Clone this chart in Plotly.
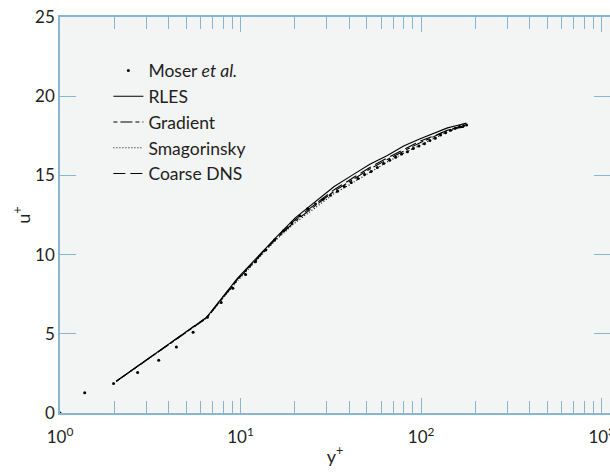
import plotly.graph_objects as go

# ---- data ----
moser_y = [1.0, 1.37, 1.98, 2.69, 3.52, 4.41, 5.46, 6.55, 7.81, 9.06, 10.66, 12.1, 13.8, 15.4,
           17.3, 19.2, 21.3, 23.5, 26.0, 28.6, 31.4, 34.4, 37.6, 41.0, 44.7, 48.6, 52.8, 57.2,
           62.0, 67.0, 72.3, 78.0, 84.0, 90.4, 97.2, 104.3, 111.8, 119.7, 128.0, 136.6, 145.5,
           154.5, 163.5, 172.0, 178.5]
moser_u = [0.0, 1.28, 1.87, 2.55, 3.33, 4.17, 5.09, 6.04, 6.97, 7.87, 8.75, 9.55, 10.29, 10.92,
           11.5, 12.0, 12.45, 12.9, 13.2, 13.5, 13.75, 14.0, 14.3, 14.55, 14.8, 15.05, 15.25, 15.5,
           15.75, 15.95, 16.15, 16.35, 16.5, 16.7, 16.85, 17.0, 17.2, 17.35, 17.55, 17.7, 17.85,
           17.98, 18.08, 18.15, 18.18]

les_y = [2.05, 6.5, 9.6, 12.0, 15.3, 20, 26, 33, 42, 52, 65, 80, 98, 118, 140, 160, 178]
rles_u = [2.0, 6.05, 8.5, 9.7, 10.95, 12.3, 13.35, 14.3, 15.05, 15.7, 16.25, 16.85, 17.3, 17.68, 18.0, 18.17, 18.3]
gradient_u = [2.0, 6.0, 8.4, 9.6, 10.85, 12.1, 13.1, 14.0, 14.75, 15.4, 16.0, 16.55, 17.05, 17.45, 17.85, 18.05, 18.15]
smag_u = [2.0, 6.0, 8.35, 9.55, 10.8, 12.0, 12.95, 13.85, 14.55, 15.2, 15.85, 16.4, 16.9, 17.35, 17.75, 18.0, 18.15]
coarse_u = [2.0, 6.05, 8.45, 9.65, 10.9, 12.2, 13.2, 14.1, 14.85, 15.5, 16.1, 16.65, 17.15, 17.5, 17.85, 18.0, 18.05]

x_tickvals = [1, 10, 100, 1000]
x_ticktext = ["10<sup>0</sup>", "10<sup>1</sup>", "10<sup>2</sup>", "10<sup>3</sup>"]
x_minor = [m * d for d in (1, 10, 100) for m in range(2, 10)]
y_tickvals = [0, 5, 10, 15, 20, 25]

AX = "#86b6d1"
TXT = "#231f20"
FONT = "Lato, sans-serif"

fig = go.Figure()
fig.add_trace(go.Scatter(x=moser_y, y=moser_u, mode="markers", name="Moser <i>et al.</i>",
                         marker=dict(color="black", size=3), cliponaxis=False))
fig.add_trace(go.Scatter(x=les_y, y=rles_u, mode="lines", name="RLES",
                         line=dict(color="black", width=1.1)))
fig.add_trace(go.Scatter(x=les_y, y=gradient_u, mode="lines", name="Gradient",
                         line=dict(color="black", width=1.1, dash="4px,3px,12px,3px")))
fig.add_trace(go.Scatter(x=les_y, y=smag_u, mode="lines", name="Smagorinsky",
                         line=dict(color="black", width=1.1, dash="1px,2px")))
fig.add_trace(go.Scatter(x=les_y, y=coarse_u, mode="lines", name="Coarse DNS",
                         line=dict(color="black", width=1.1, dash="12px,5px")))

fig.update_layout(
    width=610, height=474,
    margin=dict(l=60, r=0, t=17, b=61, autoexpand=False),
    paper_bgcolor="white", plot_bgcolor="#f3f4f4",
    font=dict(family=FONT, color=TXT, size=17),
    showlegend=True,
    legend=dict(x=0.088, y=0.91, xanchor="left", yanchor="top", bgcolor="rgba(0,0,0,0)",
                font=dict(size=17.5, family=FONT, color=TXT), itemwidth=30, tracegroupgap=0),
    xaxis=dict(type="log", range=[0, 3.046], showgrid=False, zeroline=False, automargin=False,
               showline=True, linecolor=AX, linewidth=1.5, mirror="ticks",
               ticks="inside", ticklen=15, tickcolor=AX, tickwidth=1.2,
               tickmode="array", tickvals=x_tickvals, ticktext=x_ticktext,
               ticklabeloverflow="allow", ticklabelstandoff=8,
               tickfont=dict(size=17, family=FONT, color=TXT),
               minor=dict(ticks="inside", ticklen=12, tickcolor=AX, tickwidth=1.2,
                          tickmode="array", tickvals=x_minor, showgrid=False),
               title=dict(text="y<sup>+</sup>", font=dict(size=18, family=FONT, color=TXT), standoff=4)),
    yaxis=dict(range=[0, 25], showgrid=False, zeroline=False, automargin=False,
               showline=True, linecolor=AX, linewidth=1.5, mirror="ticks",
               ticks="inside", ticklen=16, tickcolor=AX, tickwidth=1.2,
               tickmode="array", tickvals=y_tickvals, ticklabelstandoff=0,
               tickfont=dict(size=17, family=FONT, color=TXT),
               title=dict(text="u<sup>+</sup>", font=dict(size=18, family=FONT, color=TXT), standoff=0)),
)

fig.write_html("out.html", config={"displayModeBar": False},
               post_script="document.body.style.margin='0';document.body.style.overflow='hidden';")
